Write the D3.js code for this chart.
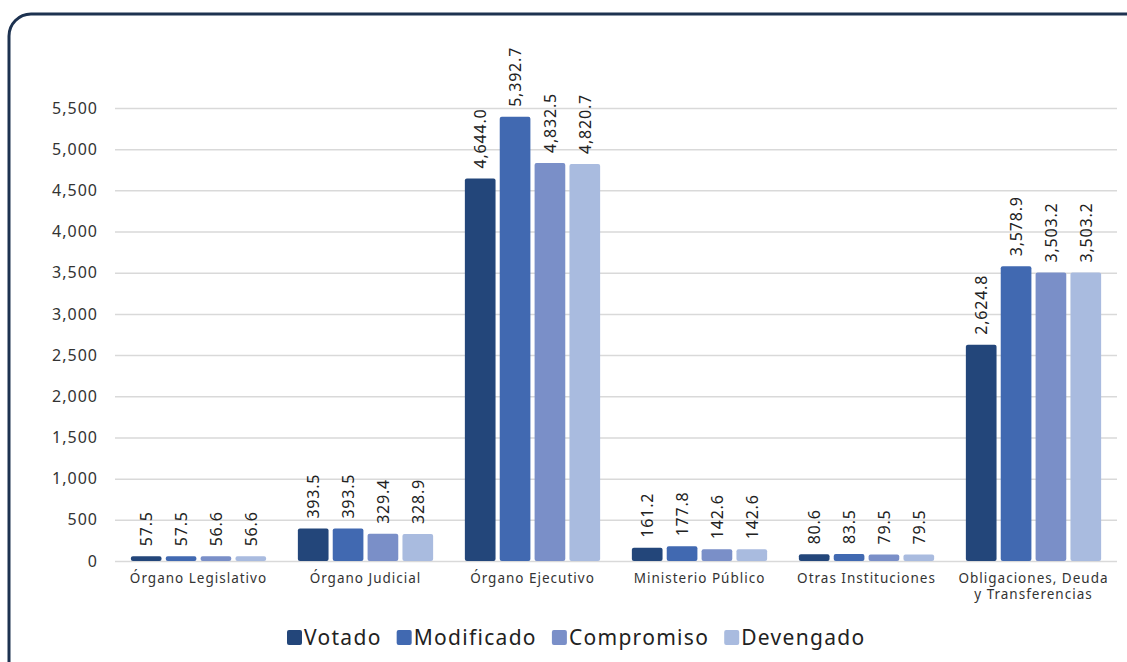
<!DOCTYPE html>
<html>
<head>
<meta charset="utf-8">
<script src="https://cdn.jsdelivr.net/npm/d3@7"></script>
<style>
  body { margin: 0; background: #fff; }
  text { font-family: "Noto Sans", "Open Sans", sans-serif; }
</style>
</head>
<body>
<script>
// data
let categories = ['Órgano Legislativo', 'Órgano Judicial', 'Órgano Ejecutivo',
  'Ministerio Público', 'Otras Instituciones', 'Obligaciones, Deuda|y Transferencias'];
let seriesNames = ['Votado', 'Modificado', 'Compromiso', 'Devengado'];
let votado     = [57.5, 393.5, 4644.0, 161.2, 80.6, 2624.8];
let modificado = [57.5, 393.5, 5392.7, 177.8, 83.5, 3578.9];
let compromiso = [56.6, 329.4, 4832.5, 142.6, 79.5, 3503.2];
let devengado  = [56.6, 328.9, 4820.7, 142.6, 79.5, 3503.2];
let yTicks = [0, 500, 1000, 1500, 2000, 2500, 3000, 3500, 4000, 4500, 5000, 5500];
let colors = ['#23467a', '#4169b1', '#7a8fc8', '#a9bbdf'];

let seriesValues = [votado, modificado, compromiso, devengado];

let width = 1127, height = 662;
let margin = { top: 108, bottom: 101, left: 115, right: 10 };

let svg = d3.select('body').append('svg')
  .attr('width', width)
  .attr('height', height);

// frame
svg.append('rect')
  .attr('x', 9).attr('y', 14)
  .attr('width', 1140).attr('height', 680)
  .attr('rx', 22)
  .attr('fill', 'none')
  .attr('stroke', '#1d3250')
  .attr('stroke-width', 3);

let yScale = d3.scaleLinear()
  .domain([0, 5500])
  .range([height - margin.bottom, margin.top]);

let xScale = d3.scaleBand()
  .domain(categories)
  .range([margin.left, width - margin.right])
  .paddingInner(0.19)
  .paddingOuter(0.095);

let xInner = d3.scaleBand()
  .domain(seriesNames)
  .range([0, xScale.bandwidth()])
  .paddingInner(0.12);

// grid + y labels
let yAxis = svg.append('g')
  .attr('transform', `translate(${margin.left}, 0)`)
  .call(d3.axisLeft(yScale).tickValues(yTicks).tickFormat(d3.format(','))
    .tickSize(-(width - margin.left - margin.right)).tickPadding(17));
yAxis.select('.domain').remove();
yAxis.selectAll('.tick line').attr('stroke', '#d9d9d9').attr('stroke-width', 1.5);
yAxis.selectAll('.tick text').attr('fill', '#333')
  .style('font-size', '16px').style('letter-spacing', '1px');

// bars
let rows = [];
categories.forEach((c, i) => {
  seriesNames.forEach((s, j) => rows.push({ cat: c, series: s, value: seriesValues[j][i], color: colors[j] }));
});

let g = svg.append('g');
g.selectAll('rect').data(rows).join('rect')
  .attr('x', d => xScale(d.cat) + xInner(d.series))
  .attr('y', d => yScale(d.value))
  .attr('width', xInner.bandwidth())
  .attr('height', d => yScale(0) - yScale(d.value))
  .attr('rx', 2)
  .attr('fill', d => d.color);

// value labels
g.selectAll('text.val').data(rows).join('text')
  .attr('class', 'val')
  .attr('transform', d => `translate(${xScale(d.cat) + xInner(d.series) + xInner.bandwidth() / 2 + 6}, ${yScale(d.value) - 10}) rotate(-90)`)
  .attr('fill', '#222')
  .style('font-size', '16px')
  .style('letter-spacing', '0.8px')
  .text(d => d3.format(',.1f')(d.value));

// category labels
let catText = svg.append('g').selectAll('text').data(categories).join('text')
  .attr('x', d => xScale(d) + xScale.bandwidth() / 2)
  .attr('y', height - margin.bottom + 22)
  .attr('text-anchor', 'middle')
  .attr('fill', '#333')
  .style('font-size', '13.5px')
  .style('letter-spacing', '1px');
catText.each(function (d) {
  let parts = d.split('|');
  d3.select(this).selectAll('tspan').data(parts).join('tspan')
    .attr('x', xScale(d) + xScale.bandwidth() / 2)
    .attr('dy', (p, k) => k === 0 ? 0 : 16)
    .text(p => p);
});

// legend
let legend = svg.append('g').attr('transform', 'translate(0, 630)');
let lx = 287;
seriesNames.forEach((s, i) => {
  legend.append('rect')
    .attr('x', lx).attr('width', 15).attr('height', 15).attr('rx', 2)
    .attr('fill', colors[i]);
  let t = legend.append('text')
    .attr('x', lx + 17).attr('y', 15)
    .attr('fill', '#222')
    .style('font-size', '21px')
    .style('letter-spacing', '1.3px')
    .text(s);
  lx += 17 + t.node().getComputedTextLength() + 15;
});
</script>
</body>
</html>
